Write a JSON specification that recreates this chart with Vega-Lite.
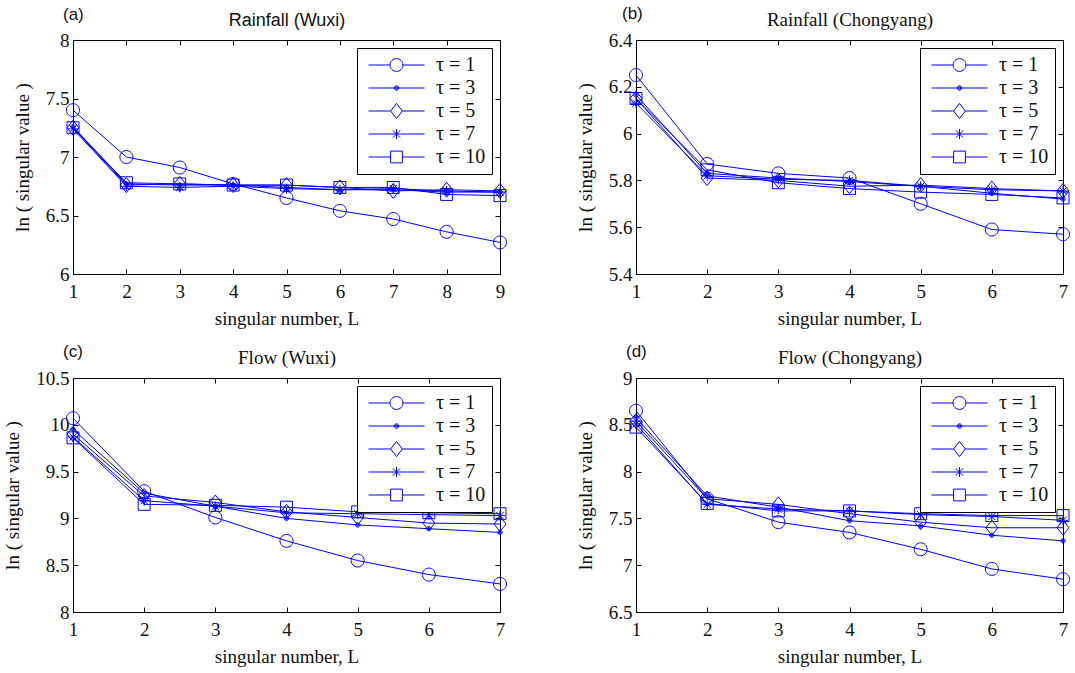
{
  "$schema": "https://vega.github.io/schema/vega-lite/v6.json",
  "background": "white",
  "padding": {"left": 3, "top": 4, "right": 5, "bottom": 5},
  "data": {"values": [
    {"p":"a","t":"1","L":1,"v":7.40},{"p":"a","t":"1","L":2,"v":7.00},{"p":"a","t":"1","L":3,"v":6.91},{"p":"a","t":"1","L":4,"v":6.77},{"p":"a","t":"1","L":5,"v":6.65},{"p":"a","t":"1","L":6,"v":6.54},{"p":"a","t":"1","L":7,"v":6.47},{"p":"a","t":"1","L":8,"v":6.36},{"p":"a","t":"1","L":9,"v":6.27},
    {"p":"a","t":"3","L":1,"v":7.26},{"p":"a","t":"3","L":2,"v":6.77},{"p":"a","t":"3","L":3,"v":6.76},{"p":"a","t":"3","L":4,"v":6.76},{"p":"a","t":"3","L":5,"v":6.74},{"p":"a","t":"3","L":6,"v":6.72},{"p":"a","t":"3","L":7,"v":6.72},{"p":"a","t":"3","L":8,"v":6.70},{"p":"a","t":"3","L":9,"v":6.70},
    {"p":"a","t":"5","L":1,"v":7.25},{"p":"a","t":"5","L":2,"v":6.76},{"p":"a","t":"5","L":3,"v":6.77},{"p":"a","t":"5","L":4,"v":6.76},{"p":"a","t":"5","L":5,"v":6.76},{"p":"a","t":"5","L":6,"v":6.74},{"p":"a","t":"5","L":7,"v":6.71},{"p":"a","t":"5","L":8,"v":6.72},{"p":"a","t":"5","L":9,"v":6.71},
    {"p":"a","t":"7","L":1,"v":7.24},{"p":"a","t":"7","L":2,"v":6.75},{"p":"a","t":"7","L":3,"v":6.74},{"p":"a","t":"7","L":4,"v":6.75},{"p":"a","t":"7","L":5,"v":6.73},{"p":"a","t":"7","L":6,"v":6.72},{"p":"a","t":"7","L":7,"v":6.73},{"p":"a","t":"7","L":8,"v":6.71},{"p":"a","t":"7","L":9,"v":6.70},
    {"p":"a","t":"10","L":1,"v":7.25},{"p":"a","t":"10","L":2,"v":6.78},{"p":"a","t":"10","L":3,"v":6.77},{"p":"a","t":"10","L":4,"v":6.76},{"p":"a","t":"10","L":5,"v":6.76},{"p":"a","t":"10","L":6,"v":6.74},{"p":"a","t":"10","L":7,"v":6.74},{"p":"a","t":"10","L":8,"v":6.68},{"p":"a","t":"10","L":9,"v":6.67},
    {"p":"b","t":"1","L":1,"v":6.25},{"p":"b","t":"1","L":2,"v":5.87},{"p":"b","t":"1","L":3,"v":5.83},{"p":"b","t":"1","L":4,"v":5.81},{"p":"b","t":"1","L":5,"v":5.70},{"p":"b","t":"1","L":6,"v":5.59},{"p":"b","t":"1","L":7,"v":5.57},
    {"p":"b","t":"3","L":1,"v":6.165},{"p":"b","t":"3","L":2,"v":5.83},{"p":"b","t":"3","L":3,"v":5.81},{"p":"b","t":"3","L":4,"v":5.795},{"p":"b","t":"3","L":5,"v":5.775},{"p":"b","t":"3","L":6,"v":5.745},{"p":"b","t":"3","L":7,"v":5.72},
    {"p":"b","t":"5","L":1,"v":6.15},{"p":"b","t":"5","L":2,"v":5.81},{"p":"b","t":"5","L":3,"v":5.80},{"p":"b","t":"5","L":4,"v":5.775},{"p":"b","t":"5","L":5,"v":5.78},{"p":"b","t":"5","L":6,"v":5.765},{"p":"b","t":"5","L":7,"v":5.755},
    {"p":"b","t":"7","L":1,"v":6.13},{"p":"b","t":"7","L":2,"v":5.82},{"p":"b","t":"7","L":3,"v":5.805},{"p":"b","t":"7","L":4,"v":5.80},{"p":"b","t":"7","L":5,"v":5.775},{"p":"b","t":"7","L":6,"v":5.76},{"p":"b","t":"7","L":7,"v":5.755},
    {"p":"b","t":"10","L":1,"v":6.15},{"p":"b","t":"10","L":2,"v":5.845},{"p":"b","t":"10","L":3,"v":5.79},{"p":"b","t":"10","L":4,"v":5.765},{"p":"b","t":"10","L":5,"v":5.75},{"p":"b","t":"10","L":6,"v":5.74},{"p":"b","t":"10","L":7,"v":5.725},
    {"p":"c","t":"1","L":1,"v":10.07},{"p":"c","t":"1","L":2,"v":9.29},{"p":"c","t":"1","L":3,"v":9.01},{"p":"c","t":"1","L":4,"v":8.76},{"p":"c","t":"1","L":5,"v":8.55},{"p":"c","t":"1","L":6,"v":8.40},{"p":"c","t":"1","L":7,"v":8.30},
    {"p":"c","t":"3","L":1,"v":9.95},{"p":"c","t":"3","L":2,"v":9.27},{"p":"c","t":"3","L":3,"v":9.13},{"p":"c","t":"3","L":4,"v":9.00},{"p":"c","t":"3","L":5,"v":8.93},{"p":"c","t":"3","L":6,"v":8.89},{"p":"c","t":"3","L":7,"v":8.85},
    {"p":"c","t":"5","L":1,"v":9.90},{"p":"c","t":"5","L":2,"v":9.24},{"p":"c","t":"5","L":3,"v":9.17},{"p":"c","t":"5","L":4,"v":9.07},{"p":"c","t":"5","L":5,"v":9.01},{"p":"c","t":"5","L":6,"v":8.95},{"p":"c","t":"5","L":7,"v":8.94},
    {"p":"c","t":"7","L":1,"v":9.87},{"p":"c","t":"7","L":2,"v":9.19},{"p":"c","t":"7","L":3,"v":9.13},{"p":"c","t":"7","L":4,"v":9.06},{"p":"c","t":"7","L":5,"v":9.05},{"p":"c","t":"7","L":6,"v":9.04},{"p":"c","t":"7","L":7,"v":9.03},
    {"p":"c","t":"10","L":1,"v":9.86},{"p":"c","t":"10","L":2,"v":9.15},{"p":"c","t":"10","L":3,"v":9.14},{"p":"c","t":"10","L":4,"v":9.12},{"p":"c","t":"10","L":5,"v":9.07},{"p":"c","t":"10","L":6,"v":9.06},{"p":"c","t":"10","L":7,"v":9.05},
    {"p":"d","t":"1","L":1,"v":8.65},{"p":"d","t":"1","L":2,"v":7.71},{"p":"d","t":"1","L":3,"v":7.46},{"p":"d","t":"1","L":4,"v":7.35},{"p":"d","t":"1","L":5,"v":7.17},{"p":"d","t":"1","L":6,"v":6.96},{"p":"d","t":"1","L":7,"v":6.85},
    {"p":"d","t":"3","L":1,"v":8.575},{"p":"d","t":"3","L":2,"v":7.74},{"p":"d","t":"3","L":3,"v":7.62},{"p":"d","t":"3","L":4,"v":7.475},{"p":"d","t":"3","L":5,"v":7.42},{"p":"d","t":"3","L":6,"v":7.32},{"p":"d","t":"3","L":7,"v":7.26},
    {"p":"d","t":"5","L":1,"v":8.54},{"p":"d","t":"5","L":2,"v":7.71},{"p":"d","t":"5","L":3,"v":7.65},{"p":"d","t":"5","L":4,"v":7.55},{"p":"d","t":"5","L":5,"v":7.46},{"p":"d","t":"5","L":6,"v":7.40},{"p":"d","t":"5","L":7,"v":7.40},
    {"p":"d","t":"7","L":1,"v":8.51},{"p":"d","t":"7","L":2,"v":7.65},{"p":"d","t":"7","L":3,"v":7.60},{"p":"d","t":"7","L":4,"v":7.58},{"p":"d","t":"7","L":5,"v":7.54},{"p":"d","t":"7","L":6,"v":7.52},{"p":"d","t":"7","L":7,"v":7.48},
    {"p":"d","t":"10","L":1,"v":8.475},{"p":"d","t":"10","L":2,"v":7.66},{"p":"d","t":"10","L":3,"v":7.58},{"p":"d","t":"10","L":4,"v":7.58},{"p":"d","t":"10","L":5,"v":7.55},{"p":"d","t":"10","L":6,"v":7.53},{"p":"d","t":"10","L":7,"v":7.53}
  ]},
  "columns": 2,
  "spacing": {"row": 13, "column": 66},
  "resolve": {"scale": {"x": "independent", "y": "independent", "shape": "independent"}, "legend": {"shape": "independent"}, "axis": {"x": "independent", "y": "independent"}},
  "concat": [
    {
      "width": 427, "height": 234,
      "transform": [{"filter": "datum.p == 'a'"}],
      "title": {"text": "(a)", "dx": -10},
      "resolve": {"scale": {"shape": "independent"}, "axis": {"x": "independent", "y": "independent"}},
      "layer": [
        {"mark": {"type": "line", "color": "#0000ff", "strokeWidth": 1},
         "encoding": {
           "x": {"field": "L", "type": "quantitative", "scale": {"domain": [1, 9], "nice": false, "zero": false}, "axis": {"orient": "bottom", "values": [1,2,3,4,5,6,7,8,9], "labelPadding": 13, "title": "singular number, L"}},
           "y": {"field": "v", "type": "quantitative", "scale": {"domain": [6, 8], "nice": false, "zero": false}, "axis": {"orient": "left", "values": [6,6.5,7,7.5,8], "format": "~g", "title": "ln ( singular value )"}},
           "detail": {"field": "t", "type": "nominal"}
         }},
        {"mark": {"type": "point", "filled": false, "color": "#0000ff", "strokeWidth": 1, "size": 169, "opacity": 1},
         "encoding": {
           "x": {"field": "L", "type": "quantitative", "scale": {"domain": [1, 9], "nice": false, "zero": false}, "axis": {"orient": "top", "values": [1,2,3,4,5,6,7,8,9], "labels": false, "domain": false, "title": "Rainfall (Wuxi)", "titleFont": "Liberation Sans", "titleFontSize": 18, "titlePadding": 10}},
           "y": {"field": "v", "type": "quantitative", "scale": {"domain": [6, 8], "nice": false, "zero": false}, "axis": {"orient": "right", "values": [6,6.5,7,7.5,8], "labels": false, "domain": false, "title": null}},
           "shape": {"field": "t", "type": "nominal", "scale": {"domain": ["1","3","5","7","10"]}, "legend": null}
         }},
        {"mark": {"type": "point", "filled": false, "color": "#0000ff", "strokeWidth": 1, "size": 0, "opacity": 0},
         "encoding": {
           "x": {"field": "L", "type": "quantitative", "scale": {"domain": [1, 9], "nice": false, "zero": false}, "axis": null},
           "y": {"field": "v", "type": "quantitative", "scale": {"domain": [6, 8], "nice": false, "zero": false}, "axis": null},
           "shape": {"field": "t", "type": "nominal", "scale": {"domain": ["1","3","5","7","10"], "range": [
             "M-1,0L-0.23,0M0.23,0L1,0M0.23,0C0.23,0.127,0.127,0.23,0,0.23C-0.127,0.23,-0.23,0.127,-0.23,0C-0.23,-0.127,-0.127,-0.23,0,-0.23C0.127,-0.23,0.23,-0.127,0.23,0Z",
             "M-1,0L1,0M0.08,0C0.08,0.044,0.044,0.08,0,0.08C-0.044,0.08,-0.08,0.044,-0.08,0C-0.08,-0.044,-0.044,-0.08,0,-0.08C0.044,-0.08,0.08,-0.044,0.08,0ZM0.043,0C0.043,0.024,0.024,0.043,0,0.043C-0.024,0.043,-0.043,0.024,-0.043,0C-0.043,-0.024,-0.024,-0.043,0,-0.043C0.024,-0.043,0.043,-0.024,0.043,0Z",
             "M-1,0L-0.21,0M0.21,0L1,0M0,-0.27L0.21,0L0,0.27L-0.21,0Z",
             "M-1,0L1,0M0,-0.18L0,0.18M-0.13,-0.13L0.13,0.13M-0.13,0.13L0.13,-0.13",
             "M-1,0L-0.21,0M0.21,0L1,0M-0.21,-0.21L0.21,-0.21L0.21,0.21L-0.21,0.21Z"]},
             "legend": {"labelExpr": "'τ = ' + datum.label"}}
         }}
      ]
    },
    {
      "width": 427, "height": 234,
      "transform": [{"filter": "datum.p == 'b'"}],
      "title": {"text": "(b)", "dx": -14},
      "resolve": {"scale": {"shape": "independent"}, "axis": {"x": "independent", "y": "independent"}},
      "layer": [
        {"mark": {"type": "line", "color": "#0000ff", "strokeWidth": 1},
         "encoding": {
           "x": {"field": "L", "type": "quantitative", "scale": {"domain": [1, 7], "nice": false, "zero": false}, "axis": {"orient": "bottom", "values": [1,2,3,4,5,6,7], "labelPadding": 13, "title": "singular number, L"}},
           "y": {"field": "v", "type": "quantitative", "scale": {"domain": [5.4, 6.4], "nice": false, "zero": false}, "axis": {"orient": "left", "values": [5.4,5.6,5.8,6,6.2,6.4], "format": "~g", "title": "ln ( singular value )"}},
           "detail": {"field": "t", "type": "nominal"}
         }},
        {"mark": {"type": "point", "filled": false, "color": "#0000ff", "strokeWidth": 1, "size": 169, "opacity": 1},
         "encoding": {
           "x": {"field": "L", "type": "quantitative", "scale": {"domain": [1, 7], "nice": false, "zero": false}, "axis": {"orient": "top", "values": [1,2,3,4,5,6,7], "labels": false, "domain": false, "title": "Rainfall (Chongyang)", "titlePadding": 10}},
           "y": {"field": "v", "type": "quantitative", "scale": {"domain": [5.4, 6.4], "nice": false, "zero": false}, "axis": {"orient": "right", "values": [5.4,5.6,5.8,6,6.2,6.4], "labels": false, "domain": false, "title": null}},
           "shape": {"field": "t", "type": "nominal", "scale": {"domain": ["1","3","5","7","10"]}, "legend": null}
         }},
        {"mark": {"type": "point", "filled": false, "color": "#0000ff", "strokeWidth": 1, "size": 0, "opacity": 0},
         "encoding": {
           "x": {"field": "L", "type": "quantitative", "scale": {"domain": [1, 7], "nice": false, "zero": false}, "axis": null},
           "y": {"field": "v", "type": "quantitative", "scale": {"domain": [5.4, 6.4], "nice": false, "zero": false}, "axis": null},
           "shape": {"field": "t", "type": "nominal", "scale": {"domain": ["1","3","5","7","10"], "range": [
             "M-1,0L-0.23,0M0.23,0L1,0M0.23,0C0.23,0.127,0.127,0.23,0,0.23C-0.127,0.23,-0.23,0.127,-0.23,0C-0.23,-0.127,-0.127,-0.23,0,-0.23C0.127,-0.23,0.23,-0.127,0.23,0Z",
             "M-1,0L1,0M0.08,0C0.08,0.044,0.044,0.08,0,0.08C-0.044,0.08,-0.08,0.044,-0.08,0C-0.08,-0.044,-0.044,-0.08,0,-0.08C0.044,-0.08,0.08,-0.044,0.08,0ZM0.043,0C0.043,0.024,0.024,0.043,0,0.043C-0.024,0.043,-0.043,0.024,-0.043,0C-0.043,-0.024,-0.024,-0.043,0,-0.043C0.024,-0.043,0.043,-0.024,0.043,0Z",
             "M-1,0L-0.21,0M0.21,0L1,0M0,-0.27L0.21,0L0,0.27L-0.21,0Z",
             "M-1,0L1,0M0,-0.18L0,0.18M-0.13,-0.13L0.13,0.13M-0.13,0.13L0.13,-0.13",
             "M-1,0L-0.21,0M0.21,0L1,0M-0.21,-0.21L0.21,-0.21L0.21,0.21L-0.21,0.21Z"]},
             "legend": {"labelExpr": "'τ = ' + datum.label"}}
         }}
      ]
    },
    {
      "width": 427, "height": 234,
      "transform": [{"filter": "datum.p == 'c'"}],
      "title": {"text": "(c)", "dx": -10},
      "resolve": {"scale": {"shape": "independent"}, "axis": {"x": "independent", "y": "independent"}},
      "layer": [
        {"mark": {"type": "line", "color": "#0000ff", "strokeWidth": 1},
         "encoding": {
           "x": {"field": "L", "type": "quantitative", "scale": {"domain": [1, 7], "nice": false, "zero": false}, "axis": {"orient": "bottom", "values": [1,2,3,4,5,6,7], "labelPadding": 13, "title": "singular number, L"}},
           "y": {"field": "v", "type": "quantitative", "scale": {"domain": [8, 10.5], "nice": false, "zero": false}, "axis": {"orient": "left", "values": [8,8.5,9,9.5,10,10.5], "format": "~g", "title": "ln ( singular value )"}},
           "detail": {"field": "t", "type": "nominal"}
         }},
        {"mark": {"type": "point", "filled": false, "color": "#0000ff", "strokeWidth": 1, "size": 169, "opacity": 1},
         "encoding": {
           "x": {"field": "L", "type": "quantitative", "scale": {"domain": [1, 7], "nice": false, "zero": false}, "axis": {"orient": "top", "values": [1,2,3,4,5,6,7], "labels": false, "domain": false, "title": "Flow (Wuxi)", "titlePadding": 10}},
           "y": {"field": "v", "type": "quantitative", "scale": {"domain": [8, 10.5], "nice": false, "zero": false}, "axis": {"orient": "right", "values": [8,8.5,9,9.5,10,10.5], "labels": false, "domain": false, "title": null}},
           "shape": {"field": "t", "type": "nominal", "scale": {"domain": ["1","3","5","7","10"]}, "legend": null}
         }},
        {"mark": {"type": "point", "filled": false, "color": "#0000ff", "strokeWidth": 1, "size": 0, "opacity": 0},
         "encoding": {
           "x": {"field": "L", "type": "quantitative", "scale": {"domain": [1, 7], "nice": false, "zero": false}, "axis": null},
           "y": {"field": "v", "type": "quantitative", "scale": {"domain": [8, 10.5], "nice": false, "zero": false}, "axis": null},
           "shape": {"field": "t", "type": "nominal", "scale": {"domain": ["1","3","5","7","10"], "range": [
             "M-1,0L-0.23,0M0.23,0L1,0M0.23,0C0.23,0.127,0.127,0.23,0,0.23C-0.127,0.23,-0.23,0.127,-0.23,0C-0.23,-0.127,-0.127,-0.23,0,-0.23C0.127,-0.23,0.23,-0.127,0.23,0Z",
             "M-1,0L1,0M0.08,0C0.08,0.044,0.044,0.08,0,0.08C-0.044,0.08,-0.08,0.044,-0.08,0C-0.08,-0.044,-0.044,-0.08,0,-0.08C0.044,-0.08,0.08,-0.044,0.08,0ZM0.043,0C0.043,0.024,0.024,0.043,0,0.043C-0.024,0.043,-0.043,0.024,-0.043,0C-0.043,-0.024,-0.024,-0.043,0,-0.043C0.024,-0.043,0.043,-0.024,0.043,0Z",
             "M-1,0L-0.21,0M0.21,0L1,0M0,-0.27L0.21,0L0,0.27L-0.21,0Z",
             "M-1,0L1,0M0,-0.18L0,0.18M-0.13,-0.13L0.13,0.13M-0.13,0.13L0.13,-0.13",
             "M-1,0L-0.21,0M0.21,0L1,0M-0.21,-0.21L0.21,-0.21L0.21,0.21L-0.21,0.21Z"]},
             "legend": {"labelExpr": "'τ = ' + datum.label"}}
         }}
      ]
    },
    {
      "width": 427, "height": 234,
      "transform": [{"filter": "datum.p == 'd'"}],
      "title": {"text": "(d)", "dx": -10},
      "resolve": {"scale": {"shape": "independent"}, "axis": {"x": "independent", "y": "independent"}},
      "layer": [
        {"mark": {"type": "line", "color": "#0000ff", "strokeWidth": 1},
         "encoding": {
           "x": {"field": "L", "type": "quantitative", "scale": {"domain": [1, 7], "nice": false, "zero": false}, "axis": {"orient": "bottom", "values": [1,2,3,4,5,6,7], "labelPadding": 13, "title": "singular number, L"}},
           "y": {"field": "v", "type": "quantitative", "scale": {"domain": [6.5, 9], "nice": false, "zero": false}, "axis": {"orient": "left", "values": [6.5,7,7.5,8,8.5,9], "format": "~g", "title": "ln ( singular value )"}},
           "detail": {"field": "t", "type": "nominal"}
         }},
        {"mark": {"type": "point", "filled": false, "color": "#0000ff", "strokeWidth": 1, "size": 169, "opacity": 1},
         "encoding": {
           "x": {"field": "L", "type": "quantitative", "scale": {"domain": [1, 7], "nice": false, "zero": false}, "axis": {"orient": "top", "values": [1,2,3,4,5,6,7], "labels": false, "domain": false, "title": "Flow (Chongyang)", "titlePadding": 10}},
           "y": {"field": "v", "type": "quantitative", "scale": {"domain": [6.5, 9], "nice": false, "zero": false}, "axis": {"orient": "right", "values": [6.5,7,7.5,8,8.5,9], "labels": false, "domain": false, "title": null}},
           "shape": {"field": "t", "type": "nominal", "scale": {"domain": ["1","3","5","7","10"]}, "legend": null}
         }},
        {"mark": {"type": "point", "filled": false, "color": "#0000ff", "strokeWidth": 1, "size": 0, "opacity": 0},
         "encoding": {
           "x": {"field": "L", "type": "quantitative", "scale": {"domain": [1, 7], "nice": false, "zero": false}, "axis": null},
           "y": {"field": "v", "type": "quantitative", "scale": {"domain": [6.5, 9], "nice": false, "zero": false}, "axis": null},
           "shape": {"field": "t", "type": "nominal", "scale": {"domain": ["1","3","5","7","10"], "range": [
             "M-1,0L-0.23,0M0.23,0L1,0M0.23,0C0.23,0.127,0.127,0.23,0,0.23C-0.127,0.23,-0.23,0.127,-0.23,0C-0.23,-0.127,-0.127,-0.23,0,-0.23C0.127,-0.23,0.23,-0.127,0.23,0Z",
             "M-1,0L1,0M0.08,0C0.08,0.044,0.044,0.08,0,0.08C-0.044,0.08,-0.08,0.044,-0.08,0C-0.08,-0.044,-0.044,-0.08,0,-0.08C0.044,-0.08,0.08,-0.044,0.08,0ZM0.043,0C0.043,0.024,0.024,0.043,0,0.043C-0.024,0.043,-0.043,0.024,-0.043,0C-0.043,-0.024,-0.024,-0.043,0,-0.043C0.024,-0.043,0.043,-0.024,0.043,0Z",
             "M-1,0L-0.21,0M0.21,0L1,0M0,-0.27L0.21,0L0,0.27L-0.21,0Z",
             "M-1,0L1,0M0,-0.18L0,0.18M-0.13,-0.13L0.13,0.13M-0.13,0.13L0.13,-0.13",
             "M-1,0L-0.21,0M0.21,0L1,0M-0.21,-0.21L0.21,-0.21L0.21,0.21L-0.21,0.21Z"]},
             "legend": {"labelExpr": "'τ = ' + datum.label"}}
         }}
      ]
    }
  ],
  "config": {
    "font": "Liberation Serif",
    "view": {"stroke": "black", "strokeWidth": 1},
    "range": {"symbol": [
      "M1,0C1,0.552,0.552,1,0,1C-0.552,1,-1,0.552,-1,0C-1,-0.552,-0.552,-1,0,-1C0.552,-1,1,-0.552,1,0Z",
      "M0.34,0C0.34,0.188,0.188,0.34,0,0.34C-0.188,0.34,-0.34,0.188,-0.34,0C-0.34,-0.188,-0.188,-0.34,0,-0.34C0.188,-0.34,0.34,-0.188,0.34,0ZM0.18,0C0.18,0.1,0.1,0.18,0,0.18C-0.1,0.18,-0.18,0.1,-0.18,0C-0.18,-0.1,-0.1,-0.18,0,-0.18C0.1,-0.18,0.18,-0.1,0.18,0ZM-0.06,0L0.06,0",
      "M0,-1.15L0.92,0L0,1.15L-0.92,0Z",
      "M0,-0.77L0,0.77M-0.77,0L0.77,0M-0.55,-0.55L0.55,0.55M-0.55,0.55L0.55,-0.55",
      "M-0.92,-0.92L0.92,-0.92L0.92,0.92L-0.92,0.92Z"
    ]},
    "axis": {
      "grid": false, "tickSize": -5, "tickColor": "black", "domainColor": "black",
      "labelFont": "Liberation Serif", "labelFontSize": 19, "labelColor": "#111", "labelPadding": 9, "labelFlush": false,
      "titleFont": "Liberation Serif", "titleFontSize": 19, "titleFontWeight": "normal", "titleColor": "#111", "titlePadding": 13
    },
    "axisBottom": {"titlePadding": 8},
    "title": {"font": "Liberation Sans", "fontSize": 17, "fontWeight": "normal", "color": "#111", "anchor": "start", "frame": "group", "offset": -12},
    "legend": {
      "orient": "top-right", "offset": 8, "title": null, "padding": 6, "strokeColor": "black", "fillColor": "white",
      "symbolSize": 3136, "symbolOffset": 5, "labelOffset": 11, "clipHeight": 22, "rowPadding": 1, "symbolOpacity": 1,
      "symbolFillColor": "transparent",
      "labelFont": "Liberation Serif", "labelFontSize": 20, "labelColor": "#111", "symbolStrokeColor": "#0000ff", "symbolStrokeWidth": 1
    }
  }
}
